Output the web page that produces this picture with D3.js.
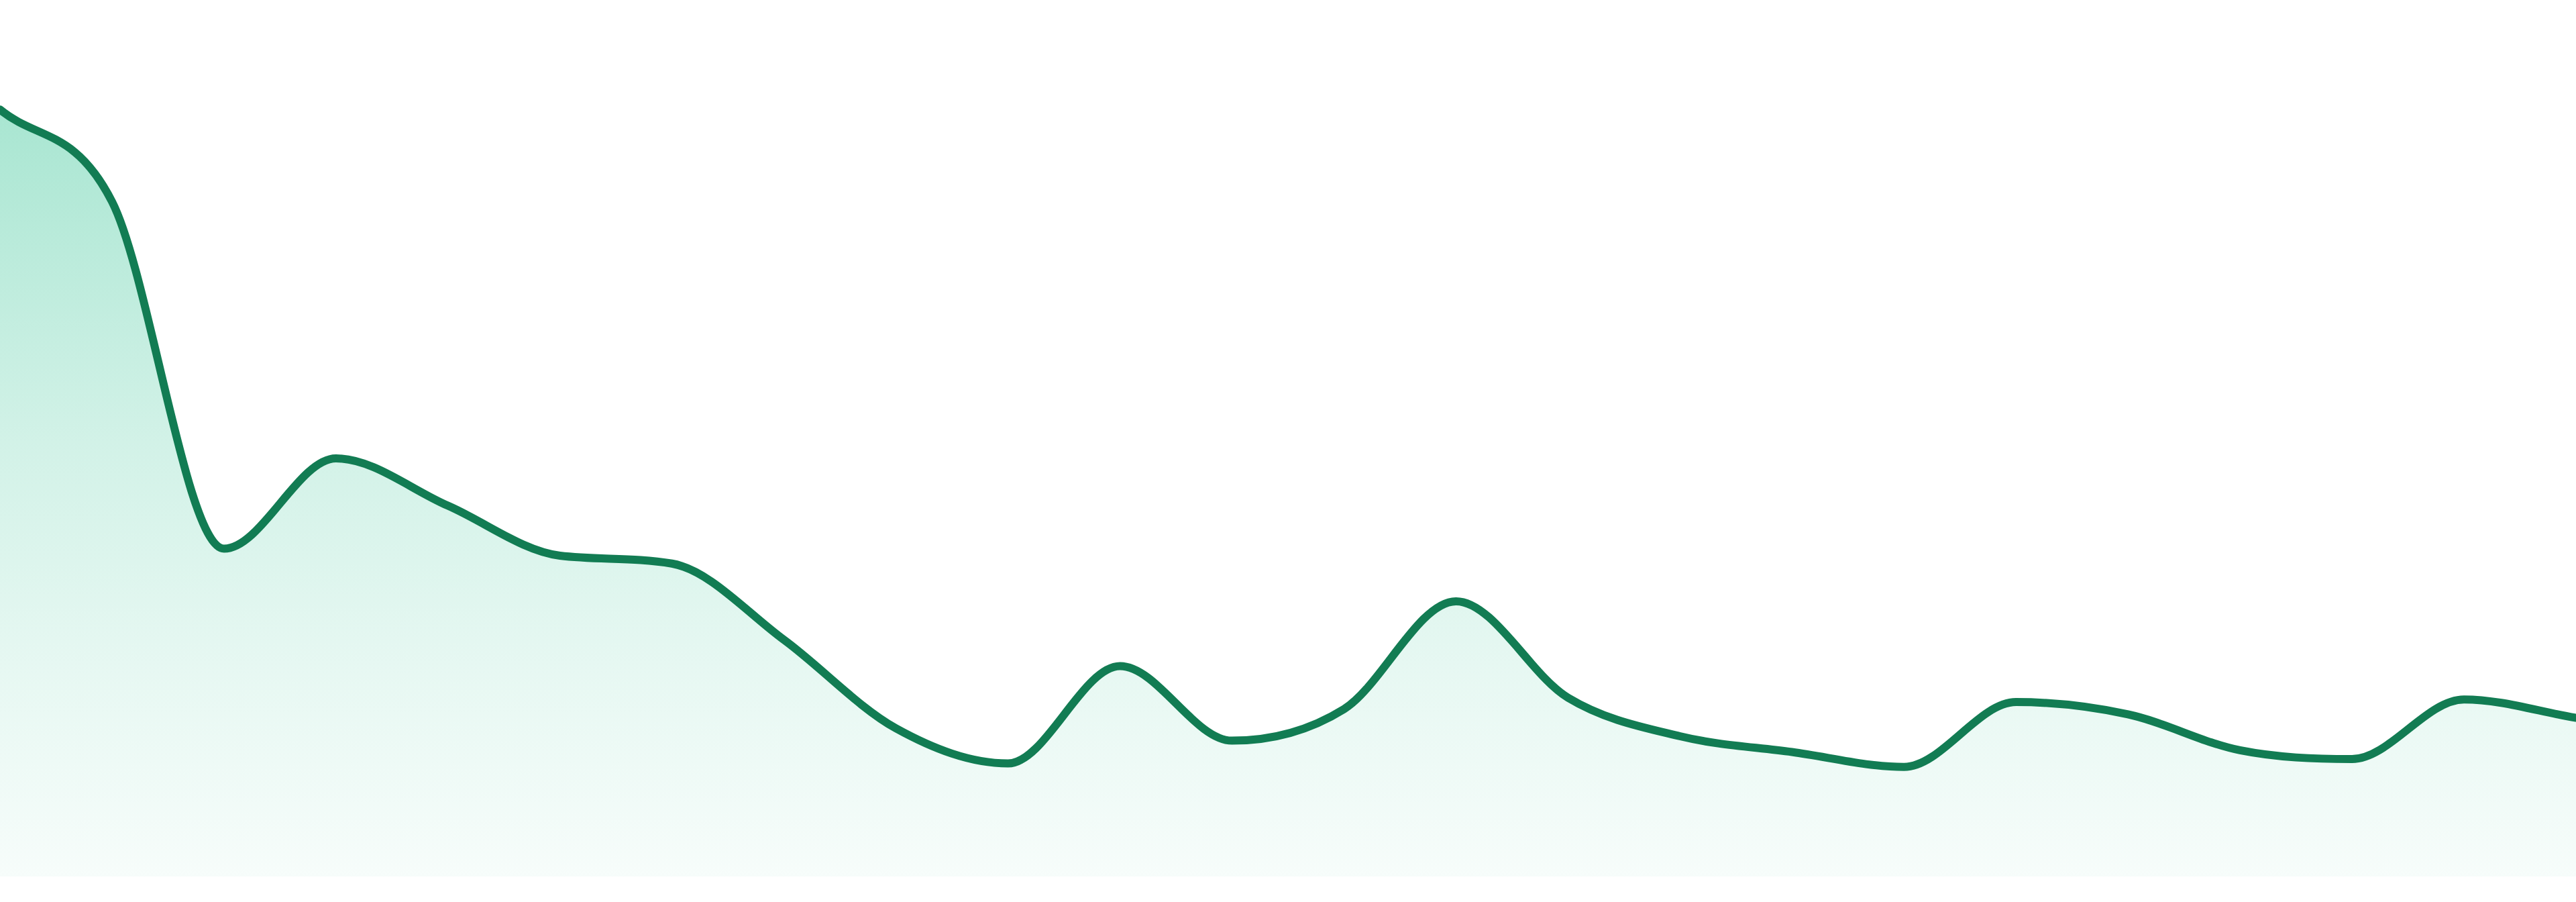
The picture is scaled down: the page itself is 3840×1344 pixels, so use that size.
<!DOCTYPE html>
<html>
<head>
<meta charset="utf-8">
<script src="https://cdn.jsdelivr.net/npm/d3@7"></script>
<style>
  html, body { margin: 0; padding: 0; background: #ffffff; overflow: hidden; }
  svg { display: block; }
</style>
</head>
<body>
<div id="chart"></div>
<script>
const categories = ["00:00","01:00","02:00","03:00","04:00","05:00","06:00","07:00",
                    "08:00","09:00","10:00","11:00","12:00","13:00","14:00","15:00",
                    "16:00","17:00","18:00","19:00","20:00","21:00","22:00","23:00"];
const values = [87.5, 77.0, 37.4, 47.7, 42.3, 36.6, 35.7, 27.0,
                16.9, 12.9, 24.0, 15.5, 19.1, 31.4, 20.4, 16.0,
                14.2, 12.5, 19.9, 18.5, 14.4, 13.4, 20.2, 18.1];
const yDomain = [0, 100];

const W = 3840, H = 1344, bottom = 38;
const data = categories.map((c, i) => ({c, v: values[i]}));

const x = d3.scalePoint().domain(categories).range([0, W]);
const y = d3.scaleLinear().domain(yDomain).range([H - bottom, 0]);

// Monotone cubic (Fritsch–Carlson) curve factory for d3.line / d3.area
function FCCurve(context) { this._context = context; }
FCCurve.prototype = {
  areaStart() { this._line = 0; },
  areaEnd() { this._line = NaN; },
  lineStart() { this._xs = []; this._ys = []; },
  point(px, py) { this._xs.push(+px); this._ys.push(+py); },
  lineEnd() {
    const xs = this._xs, ys = this._ys, n = xs.length, ctx = this._context;
    if (n) {
      this._line ? ctx.lineTo(xs[0], ys[0]) : ctx.moveTo(xs[0], ys[0]);
      if (n === 2) ctx.lineTo(xs[1], ys[1]);
      else if (n > 2) {
        const d = [], m = new Array(n);
        for (let k = 0; k < n - 1; k++) d[k] = (ys[k + 1] - ys[k]) / (xs[k + 1] - xs[k]);
        m[0] = d[0]; m[n - 1] = d[n - 2];
        for (let k = 1; k < n - 1; k++) {
          m[k] = (d[k - 1] === 0 || d[k] === 0 || Math.sign(d[k - 1]) !== Math.sign(d[k]))
            ? 0 : (d[k - 1] + d[k]) / 2;
        }
        for (let k = 0; k < n - 1; k++) {
          if (Math.abs(d[k]) < 1e-9) { m[k] = 0; m[k + 1] = 0; continue; }
          const a = m[k] / d[k], b = m[k + 1] / d[k];
          if (a < 0 || b < 0) continue;
          const s = a * a + b * b;
          if (s > 9) { const t = 3 / Math.sqrt(s); m[k] = t * a * d[k]; m[k + 1] = t * b * d[k]; }
        }
        for (let k = 0; k < n - 1; k++) {
          const dx = (xs[k + 1] - xs[k]) / 3;
          ctx.bezierCurveTo(xs[k] + dx, ys[k] + m[k] * dx,
                            xs[k + 1] - dx, ys[k + 1] - m[k + 1] * dx,
                            xs[k + 1], ys[k + 1]);
        }
      }
    }
    if (this._line || (this._line !== 0 && n === 1)) ctx.closePath();
    this._line = 1 - this._line;
  }
};
const curveFC = ctx => new FCCurve(ctx);

const svg = d3.select("#chart").append("svg").attr("width", W).attr("height", H);

const defs = svg.append("defs");
const grad = defs.append("linearGradient")
  .attr("id", "areaGrad")
  .attr("gradientUnits", "userSpaceOnUse")
  .attr("x1", 0).attr("x2", 0)
  .attr("y1", y(100)).attr("y2", y(0));
[[0, 0.42], [0.3, 0.28], [0.5, 0.19], [0.77, 0.10], [1, 0.035]].forEach(([o, a]) => {
  grad.append("stop").attr("offset", o).attr("stop-color", "#10b981").attr("stop-opacity", a);
});

const area = d3.area()
  .x(d => x(d.c))
  .y0(y(0))
  .y1(d => y(d.v))
  .curve(curveFC);

const line = d3.line()
  .x(d => x(d.c))
  .y(d => y(d.v))
  .curve(curveFC);

svg.append("path").datum(data).attr("d", area).attr("fill", "url(#areaGrad)");
svg.append("path").datum(data).attr("d", line)
  .attr("fill", "none")
  .attr("stroke", "#127c53")
  .attr("stroke-width", 12)
  .attr("stroke-linejoin", "round")
  .attr("stroke-linecap", "round");
</script>
</body>
</html>
